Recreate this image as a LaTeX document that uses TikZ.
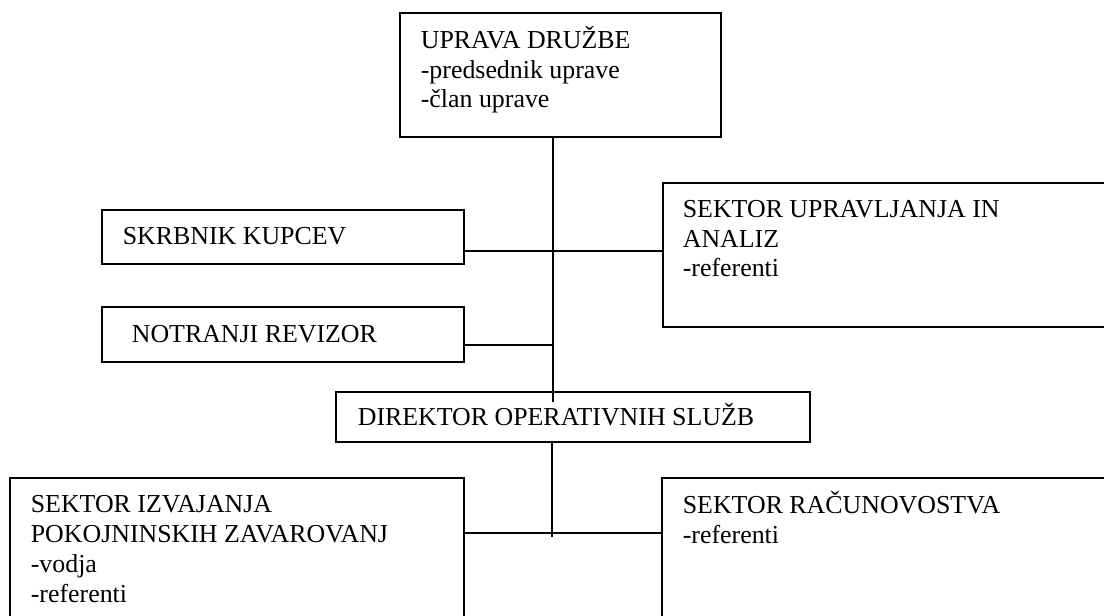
\documentclass[tikz,border=0pt]{standalone}
\usepackage{fontspec}
\setmainfont{Liberation Serif}
\tikzset{box/.style={draw, rectangle, line width=1.3pt,
         inner sep=0pt, outer sep=0pt, anchor=north west},
         txt/.style={anchor=base west, align=left, inner sep=0pt,
         font=\fontsize{18.4}{21.3}\selectfont}}

\begin{document}
\begin{tikzpicture}[x=0.025cm, y=-0.025cm, line width=1.2pt]
    \useasboundingbox (0,0) rectangle (1104,616);
    \clip (0,0) rectangle (1104,616);

    % boxes
    \node[box, minimum width=8.025cm, minimum height=3.1cm] (uprava) at (400,13) {};
    \node[box, minimum width=9.05cm, minimum height=1.35cm] (skrbnik) at (102,210) {};
    \node[box, minimum width=11.7cm, minimum height=3.6cm] (upravljanje) at (663,183) {};
    \node[box, minimum width=9.05cm, minimum height=1.375cm] (revizor) at (102,307) {};
    \node[box, minimum width=11.85cm, minimum height=1.25cm] (direktor) at (336,392) {};
    \node[box, minimum width=11.35cm, minimum height=4.6cm] (izvajanje) at (10,478) {};
    \node[box, minimum width=11.7cm, minimum height=4.6cm] (racunovodstvo) at (662,478) {};

    % texts (base = last line, 30px per line)
    \node[txt] (uprava-t) at ([shift={(20,95)}]uprava.north west)
      {UPRAVA DRUŽBE\\-predsednik uprave\\-član uprave};
    \node[txt] (skrbnik-t) at ([shift={(20,35)}]skrbnik.north west) {SKRBNIK KUPCEV};
    \node[txt] (upravljanje-t) at ([shift={(19,94)}]upravljanje.north west)
      {SEKTOR UPRAVLJANJA IN\\ANALIZ\\-referenti};
    \node[txt] (revizor-t) at ([shift={(29,35)}]revizor.north west) {NOTRANJI REVIZOR};
    \node[txt] (direktor-t) at ([shift={(21,33)}]direktor.north west) {DIREKTOR OPERATIVNIH SLUŽB};
    \node[txt] (izvajanje-t) at ([shift={(20,124)}]izvajanje.north west)
      {SEKTOR IZVAJANJA\\POKOJNINSKIH ZAVAROVANJ\\-vodja\\-referenti};
    \node[txt] (racunovodstvo-t) at ([shift={(20,65)}]racunovodstvo.north west)
      {SEKTOR RAČUNOVOSTVA\\-referenti};

    % connectors
    \coordinate (k1) at (553,251);
    \coordinate (k2) at (553,345);
    \coordinate (k3) at (552,537);
    \coordinate (k4) at (552,533);
    \draw (uprava.south -| k1) -- ([yshift=-7]direktor.north -| k1);
    \draw (skrbnik.east |- k1) -- (upravljanje.west |- k1);
    \draw (revizor.east |- k2) -- (k2);
    \draw (direktor.south -| k3) -- (k3);
    \draw (izvajanje.east |- k4) -- (racunovodstvo.west |- k4);
\end{tikzpicture}
\end{document}
